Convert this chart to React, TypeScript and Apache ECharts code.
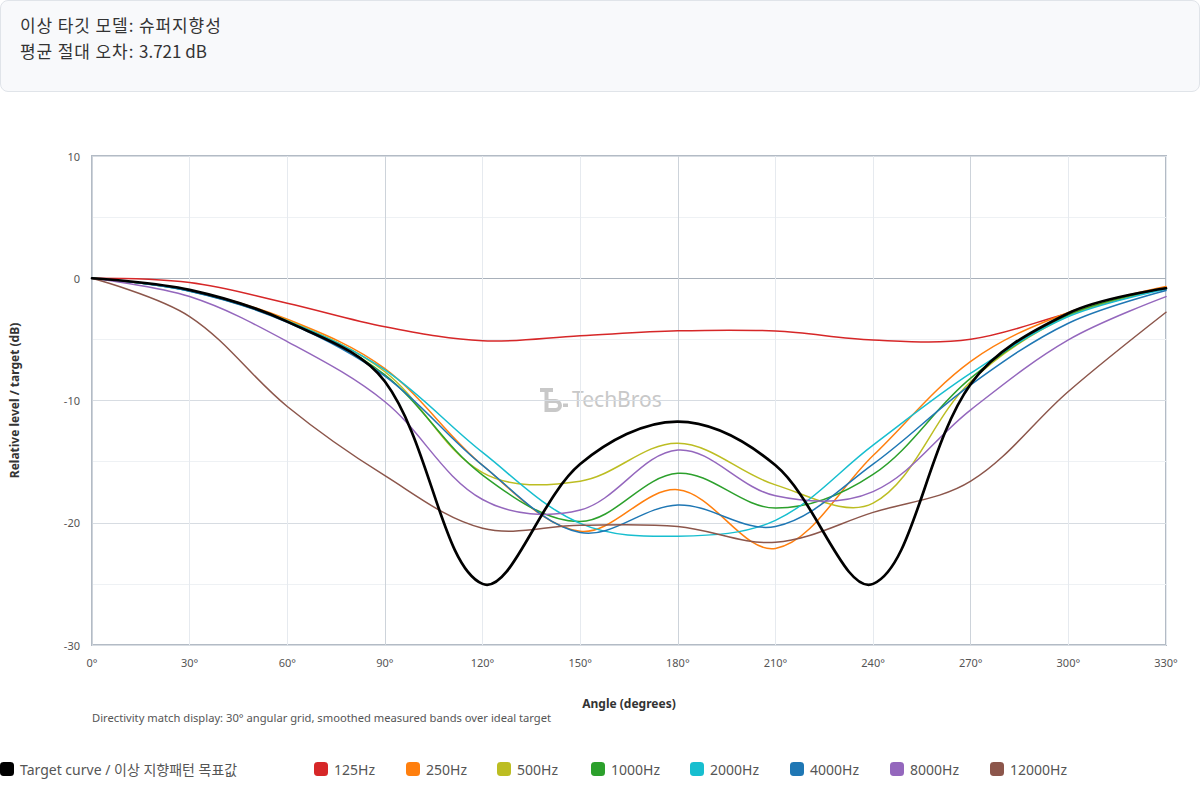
import React, { useEffect, useRef } from "react";
import * as echarts from "echarts";

const angles = [0, 30, 60, 90, 120, 150, 180, 210, 240, 270, 300, 330];
const yTicks = [-30, -20, -10, 0, 10];

const targetCurve = [0, -0.95, -3.55, -8.45, -25.0, -15.2, -11.73, -15.3, -25.0, -8.65, -2.86, -0.82];

const hz125 = [0, -0.35, -2.04, -3.96, -5.12, -4.7, -4.3, -4.32, -5.05, -4.99, -2.86, -0.74];
const hz250 = [0, -1.0, -3.35, -7.4, -15.3, -20.7, -17.3, -22.1, -14.5, -6.8, -2.8, -0.68];
const hz500 = [0, -1.02, -3.45, -7.65, -15.9, -16.6, -13.5, -16.9, -18.4, -8.45, -3.08, -0.82];
const hz1000 = [0, -1.04, -3.55, -7.9, -16.1, -19.9, -15.96, -18.8, -16.05, -8.17, -3.0, -0.82];
const hz2000 = [0, -1.04, -3.5, -7.5, -14.25, -20.05, -21.1, -19.8, -13.65, -7.77, -3.13, -0.9];
const hz4000 = [0, -1.06, -3.6, -8.0, -15.3, -20.8, -18.55, -20.3, -15.2, -8.72, -3.68, -1.0];
const hz8000 = [0, -1.5, -5.18, -10.1, -18.1, -18.96, -14.05, -17.8, -17.45, -10.76, -5.04, -1.5];
const hz12000 = [0, -3.13, -10.49, -16.15, -20.45, -20.2, -20.3, -21.6, -19.15, -16.6, -9.26, -2.78];

const targetName = "Target curve / 이상 지향패턴 목표값";
const bandNames = ["125Hz", "250Hz", "500Hz", "1000Hz", "2000Hz", "4000Hz", "8000Hz", "12000Hz"];
const bandValues = [hz125, hz250, hz500, hz1000, hz2000, hz4000, hz8000, hz12000];
const bandColors = ["#d62728", "#ff7f0e", "#bcbd22", "#2ca02c", "#17becf", "#1f77b4", "#9467bd", "#8c564b"];

const FONT = "'Noto Sans', 'Noto Sans CJK KR', sans-serif";

const legendNames = [targetName, ...bandNames];
const legendLeft = [0, 314, 406, 497, 591, 690, 790, 890, 990];

echarts.graphic.registerShape(
  "tbLogo",
  echarts.graphic.extendPath(
    "M0 0 H13 V4 H8.5 V24 H4.5 V4 H0 Z M8.5 11 H15.5 A6.5 6.5 0 0 1 15.5 24 H8.5 V20 H15.5 A2.5 2.5 0 0 0 15.5 15 H8.5 Z M23 15.5 H28 V19 H23 Z",
    {}
  )
);

// a smoothed curve drawn through the axis scales (api.coord)
function curveSeries(name: string, values: number[], color: string, width: number, z: number) {
  return {
    name,
    type: "custom",
    coordinateSystem: "cartesian2d",
    data: angles.map((a, j) => [a, values[j]]),
    encode: { x: 0, y: 1 },
    itemStyle: { color },
    z,
    renderItem: (params: any, api: any) => {
      if (params.dataIndex !== 0) return null;
      const pts = angles.map((a, j) => api.coord([a, values[j]]));
      return {
        type: "polyline",
        shape: { points: pts, smooth: 0.35 },
        style: { stroke: color, lineWidth: width, fill: "none", lineJoin: "round", lineCap: "round" },
        silent: true,
      };
    },
  };
}

function App() {
  const ref = useRef<HTMLDivElement>(null);

  useEffect(() => {
    if (!ref.current) return;
    const chart = echarts.init(ref.current, null, { renderer: "svg" });

    const series: any[] = bandNames.map((name, i) => curveSeries(name, bandValues[i], bandColors[i], 1.5, 2));
    series.push(curveSeries(targetName, targetCurve, "#000000", 2.7, 3));

    const legends = legendNames.map((name, i) => ({
      data: [name],
      left: legendLeft[i],
      top: 762,
      padding: 0,
      icon: "roundRect",
      itemWidth: 14,
      itemHeight: 14,
      textStyle: { fontSize: 14, color: "#555", fontFamily: FONT, padding: [0, 0, 0, 1] },
    }));

    chart.setOption({
      animation: false,
      textStyle: { fontFamily: FONT },
      grid: {
        left: 92,
        right: 34,
        top: 156,
        bottom: 155,
        show: true,
        borderColor: "#b3bbc5",
        borderWidth: 2,
        backgroundColor: "transparent",
      },
      legend: legends,
      xAxis: {
        type: "value",
        min: angles[0],
        max: angles[angles.length - 1],
        interval: 30,
        name: "Angle (degrees)",
        nameLocation: "middle",
        nameGap: 52,
        nameTextStyle: { fontSize: 12, fontWeight: "bold", color: "#333", fontFamily: FONT },
        axisLine: { show: false },
        axisTick: { show: false },
        axisLabel: { formatter: "{value}°", fontSize: 11, color: "#555", margin: 12, fontFamily: FONT },
        splitLine: {
          show: true,
          lineStyle: { color: ["#cdd3da", "#e6eaef", "#e6eaef"], width: 1 },
        },
      },
      yAxis: {
        type: "value",
        min: yTicks[0],
        max: yTicks[yTicks.length - 1],
        interval: 10,
        name: "Relative level / target (dB)",
        nameLocation: "middle",
        nameGap: 72,
        nameTextStyle: { fontSize: 12, fontWeight: "bold", color: "#333", fontFamily: FONT },
        axisLine: { show: false },
        axisTick: { show: false },
        axisLabel: { fontSize: 11, color: "#555", margin: 12, fontFamily: FONT },
        splitLine: {
          show: true,
          lineStyle: { color: ["#d7dce2", "#d7dce2", "#d7dce2", "#a8b0ba", "#d7dce2"], width: 1 },
        },
        minorTick: { show: false, splitNumber: 2 },
        minorSplitLine: { show: true, lineStyle: { color: "#eef1f4", width: 1 } },
      },
      graphic: [
        {
          type: "text",
          left: 92,
          top: 712,
          style: {
            text: "Directivity match display: 30° angular grid, smoothed measured bands over ideal target",
            fontSize: 11.2,
            fill: "#555",
            fontFamily: FONT,
          },
        },
        {
          type: "group",
          left: 540,
          top: 388,
          silent: true,
          z: 0,
          children: [
            { type: "tbLogo", x: 0, y: 0, style: { fill: "#c8c8c8" } },
            {
              type: "text",
              x: 32,
              y: 0,
              style: { text: "TechBros", fontSize: 21, fill: "#c8c8c8", fontFamily: FONT },
            },
          ],
        },
      ],
      series,
    });

    return () => chart.dispose();
  }, []);

  const ko = { letterSpacing: "0.9px" };

  return (
    <div style={{ position: "absolute", left: 0, top: 0, width: 1200, height: 800, background: "#fff", overflow: "hidden" }}>
      <div ref={ref} style={{ position: "absolute", left: 0, top: 0, width: 1200, height: 800 }} />
      <div
        style={{
          position: "absolute",
          left: 0,
          top: 0,
          width: 1198,
          height: 90,
          border: "1px solid #e0e4e9",
          borderRadius: 8,
          background: "#f8f9fb",
          fontFamily: "'Noto Sans CJK KR', 'Noto Sans', sans-serif",
          fontSize: 17,
          color: "#333",
          zIndex: 1,
        }}
      >
        <div style={{ position: "absolute", left: 19, top: 11, lineHeight: "26px", whiteSpace: "nowrap" }}>
          <span style={ko}>이상 타깃 모델: 슈퍼지향성</span>
        </div>
        <div style={{ position: "absolute", left: 19, top: 37, lineHeight: "26px", whiteSpace: "nowrap" }}>
          <span style={ko}>평균 절대 오차: </span>
          <span>3.721 dB</span>
        </div>
      </div>
    </div>
  );
}

export default App;
